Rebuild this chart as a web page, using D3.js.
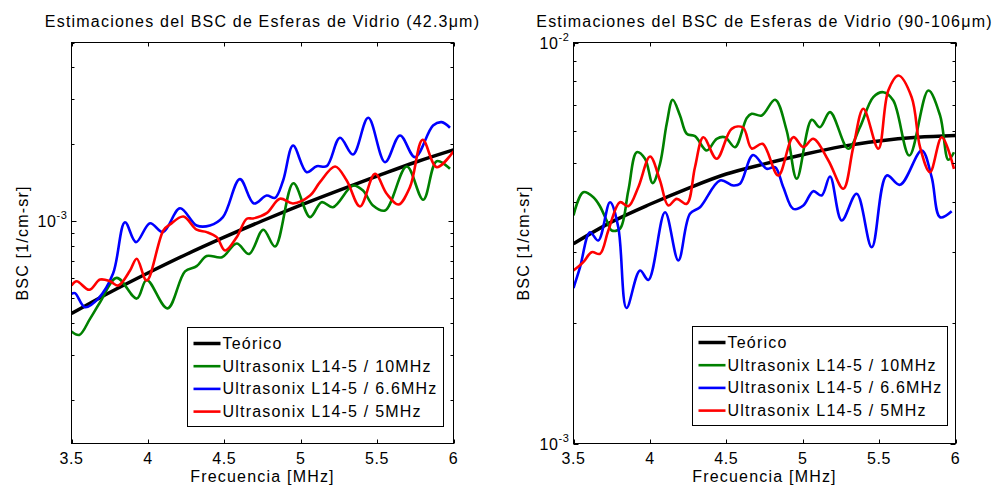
<!DOCTYPE html>
<html>
<head>
<meta charset="utf-8">
<script src="https://cdn.jsdelivr.net/npm/d3@7"></script>
<style>
  body { margin: 0; background: #fff; }
  text { font-family: Arial, "Liberation Sans", sans-serif; fill: #000; font-size: 16px; letter-spacing: 1.2px; }
</style>
</head>
<body>
<svg id="chart" width="997" height="487"></svg>
<script>
// BSC values are stored in units of 1e-3 [1/cm-sr], frequency in MHz

// --- Left panel: 42.3um spheres ---
var leftTeoF = [3.5, 3.75, 4.0, 4.25, 4.5, 4.75, 5.0, 5.25, 5.5, 5.75, 6.0];
var leftTeoV = [0.435, 0.526, 0.627, 0.741, 0.866, 1.004, 1.156, 1.321, 1.50, 1.70, 1.90];

var leftGreenF = [3.50, 3.551, 3.621, 3.687, 3.796, 3.927, 3.992, 4.128, 4.243, 4.319, 4.385, 4.485, 4.581, 4.662,
  4.755, 4.832, 4.952, 5.061, 5.137, 5.211, 5.342, 5.408, 5.473, 5.552, 5.694, 5.802, 5.89, 5.977];
var leftGreenV = [0.370, 0.359, 0.415, 0.482, 0.600, 0.498, 0.589, 0.456, 0.636, 0.667, 0.731, 0.723, 0.818, 0.744,
  0.926, 0.796, 1.408, 1.037, 1.187, 1.134, 1.379, 1.318, 1.152, 1.101, 1.637, 1.213, 1.717, 1.603];

var leftBlueF = [3.50, 3.523, 3.588, 3.675, 3.772, 3.85, 3.922, 4.014, 4.099, 4.21, 4.319, 4.406, 4.491, 4.602, 4.694,
  4.777, 4.832, 4.885, 4.95, 5.039, 5.105, 5.17, 5.257, 5.342, 5.442, 5.552, 5.65, 5.748, 5.866, 5.923, 5.977];
var leftBlueV = [0.520, 0.523, 0.461, 0.498, 0.624, 0.991, 0.828, 0.982, 0.906, 1.124, 0.962, 0.962, 1.037, 1.460, 1.173,
  1.260, 1.234, 1.443, 1.977, 1.555, 1.641, 1.641, 2.120, 1.824, 2.538, 1.701, 2.164, 1.780, 2.368, 2.440, 2.320];

var leftRedF = [3.50, 3.534, 3.616, 3.687, 3.752, 3.806, 3.883, 3.927, 3.992, 4.101, 4.145, 4.232, 4.319, 4.385, 4.45,
  4.505, 4.581, 4.647, 4.688, 4.777, 4.864, 4.95, 5.061, 5.126, 5.225, 5.301, 5.388, 5.486, 5.563, 5.639, 5.715,
  5.798, 5.89, 6.0];
var leftRedV = [0.560, 0.582, 0.539, 0.591, 0.582, 0.560, 0.641, 0.713, 0.586, 0.920, 0.971, 1.043, 0.926, 0.906, 0.866,
  0.768, 0.866, 1.022, 1.025, 1.075, 1.224, 1.173, 1.260, 1.421, 1.637, 1.443, 1.142, 1.532, 1.280, 1.162, 1.359,
  2.082, 1.627, 1.879];

// --- Right panel: 90-106um spheres ---
var rightTeoF = [3.5, 3.75, 4.0, 4.25, 4.5, 4.75, 5.0, 5.25, 5.5, 5.75, 6.0];
var rightTeoV = [3.15, 3.57, 3.95, 4.33, 4.70, 4.98, 5.25, 5.50, 5.68, 5.80, 5.86];

var rightGreenF = [3.50, 3.564, 3.630, 3.673, 3.717, 3.75, 3.804, 3.859, 3.914, 3.968, 4.018, 4.066, 4.11, 4.149, 4.197,
  4.241, 4.295, 4.372, 4.437, 4.492, 4.557, 4.634, 4.666, 4.732, 4.819, 4.895, 4.961, 5.059, 5.113, 5.179, 5.298,
  5.375, 5.462, 5.528, 5.593, 5.698, 5.822, 5.899, 5.953, 5.99];
var rightGreenV = [3.704, 4.234, 4.114, 3.906, 3.598, 3.398, 3.431, 4.275, 5.326, 5.129, 4.459, 4.983, 6.27, 7.196, 6.577,
  5.92, 5.839, 5.379, 5.754, 5.806, 5.483, 6.483, 6.642, 6.577, 7.196, 6.033, 4.573, 6.416, 6.149, 6.703, 5.431,
  6.149, 7.305, 7.518, 7.168, 5.226, 7.59, 6.577, 5.099, 5.326];

var rightBlueF = [3.50, 3.543, 3.608, 3.662, 3.739, 3.793, 3.847, 3.935, 3.99, 4.099, 4.186, 4.262, 4.328, 4.459, 4.546,
  4.59, 4.675, 4.764, 4.819, 4.873, 4.938, 5.004, 5.069, 5.124, 5.179, 5.255, 5.353, 5.452, 5.55, 5.637, 5.779,
  5.844, 5.899, 5.975];
var rightBlueV = [2.442, 2.752, 3.364, 3.207, 3.997, 3.463, 2.177, 2.701, 2.557, 3.774, 2.861, 3.739, 3.884, 4.529, 4.399,
  4.442, 5.242, 4.842, 4.887, 4.357, 3.848, 3.922, 4.258, 4.155, 4.633, 3.598, 4.195, 3.086, 4.66, 4.416, 5.379,
  4.615, 3.667, 3.796];

var rightRedF = [3.50, 3.564, 3.619, 3.673, 3.728, 3.804, 3.859, 3.924, 4.001, 4.066, 4.12, 4.175, 4.241, 4.295, 4.35,
  4.437, 4.535, 4.609, 4.666, 4.737, 4.84, 4.938, 5.004, 5.069, 5.168, 5.266, 5.331, 5.397, 5.495, 5.56, 5.626,
  5.713, 5.768, 5.833, 5.91, 5.99];
var rightRedV = [2.701, 2.833, 3.0, 2.972, 3.398, 3.997, 3.906, 4.357, 5.196, 4.529, 3.922, 4.075, 3.961, 4.887, 5.806,
  5.129, 6.092, 6.138, 5.441, 5.589, 4.66, 5.806, 5.483, 5.754, 5.078, 4.317, 5.483, 6.835, 5.431, 7.59, 8.274,
  7.305, 5.483, 4.75, 5.806, 4.842];

var xTicks = [3.5, 4, 4.5, 5, 5.5, 6];
var legendNames = ['Teórico', 'Ultrasonix L14-5 / 10MHz', 'Ultrasonix L14-5 / 6.6MHz', 'Ultrasonix L14-5 / 5MHz'];
var colors = ['#000000', '#008000', '#0000ff', '#ff0000'];

var panels = [
  {
    title: 'Estimaciones del BSC de Esferas de Vidrio (42.3\u03bcm)',
    left: 71.5, right: 453.5, yDomain: [1.35e-4, 5e-3], decadeLabels: [1e-3], expo: {'0.001': '-3'},
    series: [[leftTeoF, leftTeoV], [leftGreenF, leftGreenV], [leftBlueF, leftBlueV], [leftRedF, leftRedV]],
    legend: {x: 187.5, y: 327.5, w: 256, h: 99},
    ylabelX: 28
  },
  {
    title: 'Estimaciones del BSC de Esferas de Vidrio (90-106\u03bcm)',
    left: 573.5, right: 955.5, yDomain: [1e-3, 1e-2], decadeLabels: [1e-3, 1e-2], expo: {'0.001': '-3', '0.01': '-2'},
    series: [[rightTeoF, rightTeoV], [rightGreenF, rightGreenV], [rightBlueF, rightBlueV], [rightRedF, rightRedV]],
    legend: {x: 692.5, y: 326.5, w: 255, h: 99},
    ylabelX: 529
  }
];

var plotTop = 42.5, plotBottom = 443.5;
var svg = d3.select('#chart');

panels.forEach(function(p, pi) {
  var x = d3.scaleLinear().domain([3.5, 6]).range([p.left, p.right]);
  var y = d3.scaleLog().domain(p.yDomain).range([plotBottom, plotTop]);
  var g = svg.append('g');

  // clip for the curves
  var clipId = 'clip' + pi;
  g.append('clipPath').attr('id', clipId)
    .append('rect')
      .attr('x', p.left).attr('y', plotTop)
      .attr('width', p.right - p.left).attr('height', plotBottom - plotTop);

  var line = d3.line()
    .x(function(d) { return x(d[0]); })
    .y(function(d) { return y(d[1] * 1e-3); })
    .curve(d3.curveCatmullRom.alpha(0.5));

  p.series.forEach(function(s, si) {
    var pts = s[0].map(function(f, i) { return [f, s[1][i]]; });
    g.append('path')
      .datum(pts)
      .attr('clip-path', 'url(#' + clipId + ')')
      .attr('fill', 'none')
      .attr('stroke', colors[si])
      .attr('stroke-width', si === 0 ? 3.5 : 2.6)
      .attr('stroke-linejoin', 'round')
      .attr('d', line);
  });

  // box
  g.append('rect')
    .attr('x', p.left).attr('y', plotTop)
    .attr('width', p.right - p.left).attr('height', plotBottom - plotTop)
    .attr('fill', 'none').attr('stroke', '#000').attr('stroke-width', 1);

  // x ticks (inward, top and bottom)
  xTicks.forEach(function(t) {
    var xx = Math.round(x(t)) + 0.5;
    g.append('line').attr('x1', xx).attr('x2', xx).attr('y1', plotBottom).attr('y2', plotBottom - 4).attr('stroke', '#000');
    g.append('line').attr('x1', xx).attr('x2', xx).attr('y1', plotTop).attr('y2', plotTop + 4).attr('stroke', '#000');
    g.append('text')
      .attr('x', x(t)).attr('y', 464)
      .attr('text-anchor', 'middle')
      .style('letter-spacing', '0.6px')
      .text(t);
  });

  // y ticks (log, minor and major)
  var yTicks = [];
  for (var k = -5; k <= -1; k++) {
    for (var m = 1; m <= 9; m++) {
      var v = m * Math.pow(10, k);
      if (v >= p.yDomain[0] * 0.999 && v <= p.yDomain[1] * 1.001) yTicks.push({v: v, major: m === 1});
    }
  }
  yTicks.forEach(function(t) {
    var yy = Math.round(y(t.v)) + 0.5;
    var len = t.major ? 5 : 3;
    g.append('line').attr('x1', p.left).attr('x2', p.left + len).attr('y1', yy).attr('y2', yy).attr('stroke', '#000');
    g.append('line').attr('x1', p.right).attr('x2', p.right - len).attr('y1', yy).attr('y2', yy).attr('stroke', '#000');
  });

  // decade labels 10^k
  p.decadeLabels.forEach(function(v) {
    var lab = g.append('text')
      .attr('x', p.left - 4).attr('y', y(v) + 6)
      .attr('text-anchor', 'end')
      .style('letter-spacing', '0.6px');
    lab.append('tspan').text('10');
    lab.append('tspan').attr('dy', -8).style('font-size', '11px').text(p.expo[String(v)]);
  });

  // title
  g.append('text')
    .attr('x', (p.left + p.right) / 2).attr('y', 27)
    .attr('text-anchor', 'middle')
    .text(p.title);

  // axis labels
  g.append('text')
    .attr('x', (p.left + p.right) / 2).attr('y', 482)
    .attr('text-anchor', 'middle')
    .text('Frecuencia [MHz]');

  g.append('text')
    .attr('transform', 'translate(' + p.ylabelX + ',' + ((plotTop + plotBottom) / 2) + ') rotate(-90)')
    .attr('text-anchor', 'middle')
    .text('BSC [1/cm-sr]');

  // legend
  var L = p.legend;
  var lg = g.append('g');
  lg.append('rect')
    .attr('x', L.x).attr('y', L.y).attr('width', L.w).attr('height', L.h)
    .attr('fill', '#fff').attr('stroke', '#000').attr('stroke-width', 1);
  legendNames.forEach(function(name, i) {
    var ly = L.y + 16 + i * 22.7;
    lg.append('line')
      .attr('x1', L.x + 6).attr('x2', L.x + 33)
      .attr('y1', ly).attr('y2', ly)
      .attr('stroke', colors[i])
      .attr('stroke-width', i === 0 ? 3.5 : 2.6);
    lg.append('text')
      .attr('x', L.x + 35).attr('y', ly + 5.5)
      .text(name);
  });
});
</script>
</body>
</html>
